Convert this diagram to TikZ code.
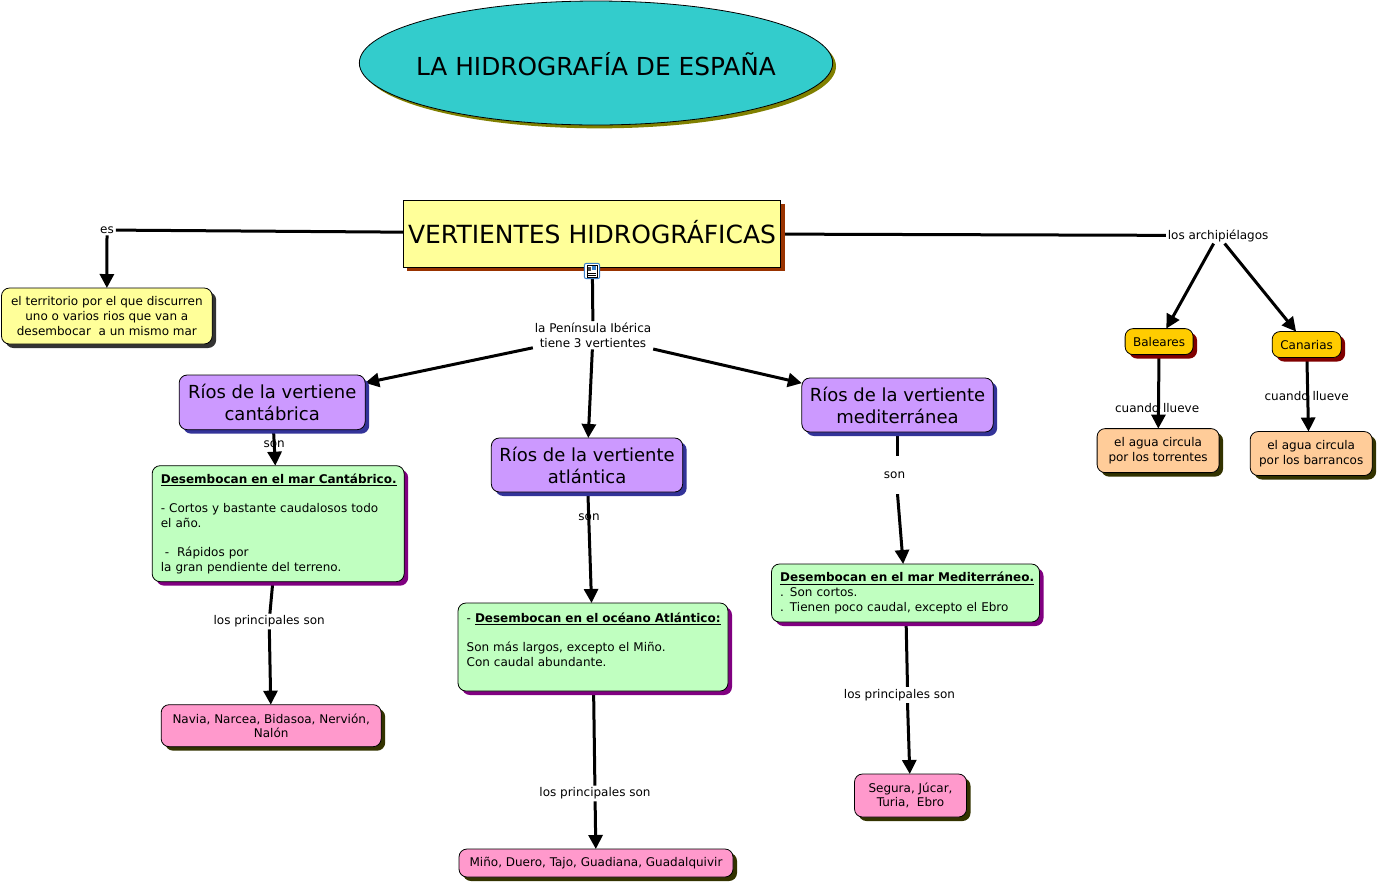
\documentclass[tikz,border=0pt]{standalone}
\usepackage{fontspec}
\setmainfont{DejaVu Sans}
\usetikzlibrary{positioning, shapes.geometric, arrows.meta, shadows, backgrounds}
\definecolor{cyanfill}{HTML}{33CCCC}
\definecolor{olivesh}{HTML}{808000}
\definecolor{yellowfill}{HTML}{FFFF99}
\definecolor{brownsh}{HTML}{993300}
\definecolor{greysh}{HTML}{333333}
\definecolor{lilacfill}{HTML}{CC99FF}
\definecolor{bluesh}{HTML}{333399}
\definecolor{greenfill}{HTML}{C0FFC0}
\definecolor{purplesh}{HTML}{800080}
\definecolor{pinkfill}{HTML}{FF99CC}
\definecolor{darksh}{HTML}{333300}
\definecolor{goldfill}{HTML}{FFCC00}
\definecolor{redsh}{HTML}{800000}
\definecolor{peachfill}{HTML}{FFCC99}
\definecolor{iconblue}{HTML}{3A7FC8}
\newcommand{\smallfont}{\fontsize{9}{11}\selectfont}
\newcommand{\bigfont}{\fontsize{13.5}{16.5}\selectfont}
\tikzset{
    x=0.75pt, y=-0.75pt,
    concept/.style={rectangle, rounded corners=6pt, draw=black, line width=0.6pt, inner sep=0pt, outer sep=0pt, align=center, font=\smallfont},
    maintitle/.style={ellipse, draw=black, line width=0.6pt, fill=cyanfill, minimum width=355pt, minimum height=93pt, inner ysep=0pt, inner xsep=-12pt, outer sep=0pt, text height=19pt, font=\fontsize{18.6}{22}\selectfont, copy shadow={shadow xshift=2.5pt, shadow yshift=-2.5pt, draw=none, fill=olivesh}},
    mainbox/.style={rectangle, draw=black, line width=0.6pt, fill=yellowfill, minimum width=283.25pt, minimum height=50.25pt, inner sep=0pt, outer sep=0pt, text depth=3pt, font=\fontsize{18.75}{22}\selectfont, copy shadow={shadow xshift=3pt, shadow yshift=-3pt, draw=none, fill=brownsh}},
    defbox/.style={concept, fill=yellowfill, minimum width=158pt, minimum height=42pt, copy shadow={shadow xshift=3pt, shadow yshift=-3pt, draw=none, fill=greysh}},
    slopebox/.style={concept, fill=lilacfill, minimum width=143.5pt, minimum height=40.5pt, font=\bigfont, copy shadow={shadow xshift=3pt, shadow yshift=-3pt, draw=none, fill=bluesh}},
    factbox/.style={concept, fill=greenfill, align=left, inner xsep=6.5pt, copy shadow={shadow xshift=3pt, shadow yshift=-3pt, draw=none, fill=purplesh}},
    riverbox/.style={concept, fill=pinkfill, copy shadow={shadow xshift=3pt, shadow yshift=-3pt, draw=none, fill=darksh}},
    islebox/.style={concept, fill=goldfill, minimum width=51pt, minimum height=19.5pt, copy shadow={shadow xshift=3pt, shadow yshift=-3pt, draw=none, fill=redsh}},
    waterbox/.style={concept, fill=peachfill, minimum width=91.5pt, minimum height=33pt, copy shadow={shadow xshift=3pt, shadow yshift=-3pt, draw=none, fill=darksh}},
    linkword/.style={inner sep=1.5pt, outer sep=0pt, align=center, font=\smallfont},
    conn/.style={line width=2.25pt, black},
    arr/.style={conn, -{Triangle[length=10.5pt, width=10.5pt]}},
}

\begin{document}
\begin{tikzpicture}
    \useasboundingbox (0,0) rectangle (1377,883);
    \node [maintitle] (title) at (596,63) {LA HIDROGRAFÍA DE ESPAÑA};
    \node [mainbox] (vert) [below=56.25pt of title, xshift=-3pt] {VERTIENTES HIDROGRÁFICAS};
    \node [defbox] (terr) [below left=15.75pt and 143.25pt of vert] {el territorio por el que discurren\\uno o varios rios que van a\\desembocar~ a un mismo mar};
    \node [slopebox, minimum width=139.5pt, minimum height=41pt] (cant) [below left=81pt and 28.5pt of vert] {Ríos de la vertiene\\cantábrica};
    \node [slopebox] (atl) [below=128.25pt of vert, xshift=-3.75pt] {Ríos de la vertiente\\atlántica};
    \node [slopebox] (med) [below right=83.25pt and 15.75pt of vert] {Ríos de la vertiente\\mediterránea};
    \node [factbox, text width=176pt, minimum height=87pt] (desc) [below=27pt of cant, xshift=4.5pt] {\textbf{\underline{Desembocan en el mar Cantábrico.}}\\[11pt]- Cortos y bastante caudalosos todo\\el año.\\[11pt]~-~~Rápidos por\\la gran pendiente del terreno.};
    \node [factbox, text width=189.5pt, minimum height=66pt] (desa) [below=83.25pt of atl, xshift=4.5pt] {\mbox{- \textbf{\underline{Desembocan en el océano Atlántico:}}}\\[11pt]Son más largos, excepto el Miño.\\Con caudal abundante.\\~};
    \node [factbox, text width=188pt, minimum height=43.5pt] (desm) [below=99pt of med, xshift=6pt] {\mbox{\textbf{\underline{Desembocan en el mar Mediterráneo.}}}\\. Son cortos.\\. Tienen poco caudal, excepto el Ebro};
    \node [riverbox, minimum width=165pt, minimum height=31.5pt] (rivc) [below=92.25pt of desc, xshift=-5.25pt] {Navia, Narcea, Bidasoa, Nervión,\\Nalón};
    \node [riverbox, minimum width=205.5pt, minimum height=21pt] (riva) [below=118.5pt of desa, xshift=2.25pt] {Miño, Duero, Tajo, Guadiana, Guadalquivir};
    \node [riverbox, minimum width=84pt, minimum height=32.25pt] (rivm) [below=114pt of desm, xshift=3.75pt] {Segura, Júcar,\\Turia,~ Ebro};
    % enlaces
    \node [linkword] (es) [left=215.5pt of vert, yshift=2.6pt] {es};
    \node [linkword] (pen) [below=40.5pt of vert, xshift=0.75pt] {la Península Ibérica\\tiene 3 vertientes};
    \node [linkword] (arch) [right=288.75pt of vert, yshift=-1.5pt] {los archipiélagos};
    \node [linkword] (sonc) [below=7pt of cant, xshift=1.5pt] {son};
    \node [linkword] (sona) [below=15pt of atl, xshift=1.5pt] {son};
    \node [linkword, fill=white, minimum height=28.5pt] (sonm) [below=18pt of med, xshift=-2.25pt] {son};
    \node [linkword, fill=white] (prc) [below=24pt of desc, xshift=-6.75pt] {los principales son};
    \node [linkword, fill=white] (pra) [below=71pt of desa, xshift=1.5pt] {los principales son};
    \node [linkword, fill=white] (prm) [below=49pt of desm, xshift=-4.5pt] {los principales son};
    % archipielagos
    \node [islebox] (bal) [below=63.8pt of arch, xshift=-44.25pt] {Baleares};
    \node [islebox, minimum width=51.75pt] (can) [below=66pt of arch, xshift=66.4pt] {Canarias};
    \node [waterbox] (torr) [below=55.5pt of bal, xshift=-0.75pt] {el agua circula\\por los torrentes};
    \node [waterbox] (barr) [below=55.5pt of can, xshift=3.4pt] {el agua circula\\por los barrancos};
    \node [linkword] (llb) [below=35pt of bal, xshift=-1.5pt] {cuando llueve};
    \node [linkword] (llc) [below=24pt of can, xshift=0pt] {cuando llueve};
    % icono
    \node [rectangle, rounded corners=1.5pt, draw=iconblue, line width=0.7pt, fill=white, minimum size=11.5pt, inner sep=0pt] (icon) at (592,271) {};
    \draw [line width=0.5pt] ([shift={(-5,-6)}]icon.center) rectangle ([shift={(5,6)}]icon.center);
    \fill [black!70] ([shift={(-4,-4)}]icon.center) rectangle ([shift={(-1,0)}]icon.center);
    \fill [iconblue] ([shift={(0,-5)}]icon.center) rectangle ([shift={(4,-1)}]icon.center);
    \draw [line width=0.4pt] ([shift={(-4,2)}]icon.center) -- ([shift={(4,2)}]icon.center);
    \draw [line width=0.4pt] ([shift={(-4,4)}]icon.center) -- ([shift={(4,4)}]icon.center);
    \begin{scope}[on background layer]
        \fill [white] (0,0) rectangle (1377,883);
        \draw [conn] (vert) -- (es);
        \draw [arr] (es) -- (terr);
        \draw [conn] (vert) -- (pen);
        \draw [arr] (pen) -- (cant);
        \draw [arr] (pen) -- (atl);
        \draw [arr] (pen) -- (med);
        \draw [arr] (cant) -- (desc);
        \draw [arr] (atl) -- (desa);
        \draw [conn] (med) -- ([xshift=2.25pt]sonm.north);
        \draw [arr] ([xshift=2.25pt]sonm.south) -- (desm);
        \draw [conn] (desc) -- (prc);
        \draw [arr] (prc) -- (rivc);
        \draw [conn] (desa) -- (pra);
        \draw [arr] (pra) -- (riva);
        \draw [conn] (desm) -- ([xshift=6pt]prm.north);
        \draw [arr] ([xshift=6pt]prm.south) -- (rivm);
        \draw [conn] (vert) -- (arch);
        \draw [arr] (arch) -- (bal);
        \draw [arr] (arch) -- (can);
        \draw [arr] (bal) -- (torr);
        \draw [arr] (can) -- ([xshift=-2pt]barr.north);
    \end{scope}
\end{tikzpicture}
\end{document}
